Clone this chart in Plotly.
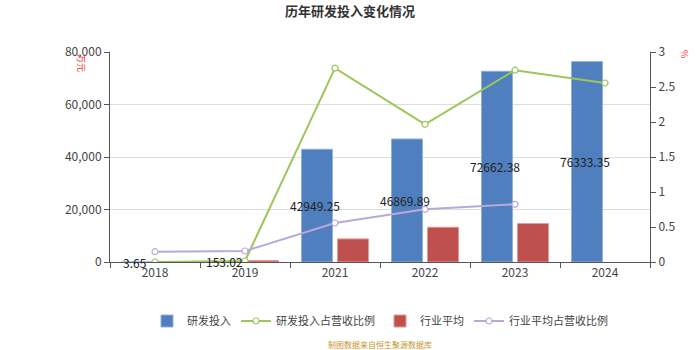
import plotly.graph_objects as go

categories = ["2018", "2019", "2021", "2022", "2023", "2024"]
rd_invest = [3.65, 153.02, 42949.25, 46869.89, 72662.38, 76333.35]
rd_ratio = [0.0, 0.014, 2.77, 1.967, 2.74, 2.557]
ind_avg = [None, 550, 8800, 13250, 14650, None]
ind_ratio = [0.147, 0.157, 0.557, 0.753, 0.824, None]

FONT = "Noto Sans CJK SC"
BLUE = "#4F7FBE"
RED = "#C0504D"
GREEN = "#9BC65A"
PURPLE = "#B9A9D8"

fig = go.Figure()
fig.add_trace(go.Bar(x=categories, y=rd_invest, name="研发投入",
                     marker=dict(color=BLUE, line=dict(color="#8FB0DC", width=1))))
fig.add_trace(go.Scatter(x=categories, y=rd_ratio, name="研发投入占营收比例", yaxis="y2",
                         mode="lines+markers",
                         line=dict(color=GREEN, width=2),
                         marker=dict(symbol="circle", size=6, color="white",
                                     line=dict(color=GREEN, width=1.2))))
fig.add_trace(go.Bar(x=categories, y=ind_avg, name="行业平均",
                     marker=dict(color=RED, line=dict(color="#E09A98", width=1))))
fig.add_trace(go.Scatter(x=categories, y=ind_ratio, name="行业平均占营收比例", yaxis="y2",
                         mode="lines+markers",
                         line=dict(color=PURPLE, width=2),
                         marker=dict(symbol="circle", size=6, color="white",
                                     line=dict(color=PURPLE, width=1.2))))

annotations = []
for i, v in enumerate(rd_invest):
    annotations.append(dict(x=i, y=v / 2, xref="x", yref="y", text=f"{v:.2f}",
                            showarrow=False, xshift=-20.5, xanchor="center",
                            font=dict(family=FONT, size=12, color="#222")))
annotations.append(dict(x=(82 - 110) / 540, y=(262 - 63) / 210, xref="paper", yref="paper",
                        text="万元", showarrow=False, textangle=90,
                        xanchor="center", yanchor="middle",
                        font=dict(family=FONT, size=9, color="#FF3333")))
annotations.append(dict(x=(684 - 110) / 540, y=(262 - 54) / 210, xref="paper", yref="paper",
                        text="%", showarrow=False, textangle=90,
                        xanchor="center", yanchor="middle",
                        font=dict(family=FONT, size=9, color="#FF3333")))
annotations.append(dict(x=0.5, y=(262 - 344) / 210, xref="paper", yref="paper",
                        yanchor="middle",
                        text="制图数据来自恒生聚源数据库", showarrow=False,
                        font=dict(family=FONT, size=8, color="#C8962C")))

fig.update_layout(
    width=700, height=350,
    margin=dict(l=110, r=50, t=52, b=88),
    paper_bgcolor="white", plot_bgcolor="white",
    font=dict(family=FONT, size=12, color="#444"),
    title=dict(text="<b>历年研发投入变化情况</b>", x=0.5, xanchor="center",
               y=1 - 11 / 350, yanchor="middle",
               font=dict(family=FONT, size=13, color="#333")),
    barmode="group", bargap=0.2, bargroupgap=0.14,
    xaxis=dict(type="category", tickson="boundaries", ticks="outside", ticklen=5,
               showline=True, linecolor="#555", tickcolor="#555", showgrid=False,
               range=[-0.5, 5.5], tickangle=0,
               tickfont=dict(size=12, color="#444")),
    yaxis=dict(range=[0, 80000], dtick=20000, tickformat=",", showgrid=True,
               gridcolor="#DDDDDD", gridwidth=1, showline=True, linecolor="#555",
               ticks="outside", ticklen=5, tickcolor="#555", zeroline=False,
               tickfont=dict(size=12, color="#444")),
    yaxis2=dict(range=[0, 3], dtick=0.5, overlaying="y", side="right", showgrid=False,
                showline=True, linecolor="#555", ticks="outside", ticklen=5,
                tickcolor="#555", zeroline=False,
                tickfont=dict(size=12, color="#444")),
    legend=dict(orientation="h", x=0.5, xanchor="center", y=1 - 321 / 350,
                yref="container", yanchor="middle",
                font=dict(family=FONT, size=11, color="#444"), itemwidth=30),
    annotations=annotations,
    showlegend=True,
)

fig.write_html("out.html")
